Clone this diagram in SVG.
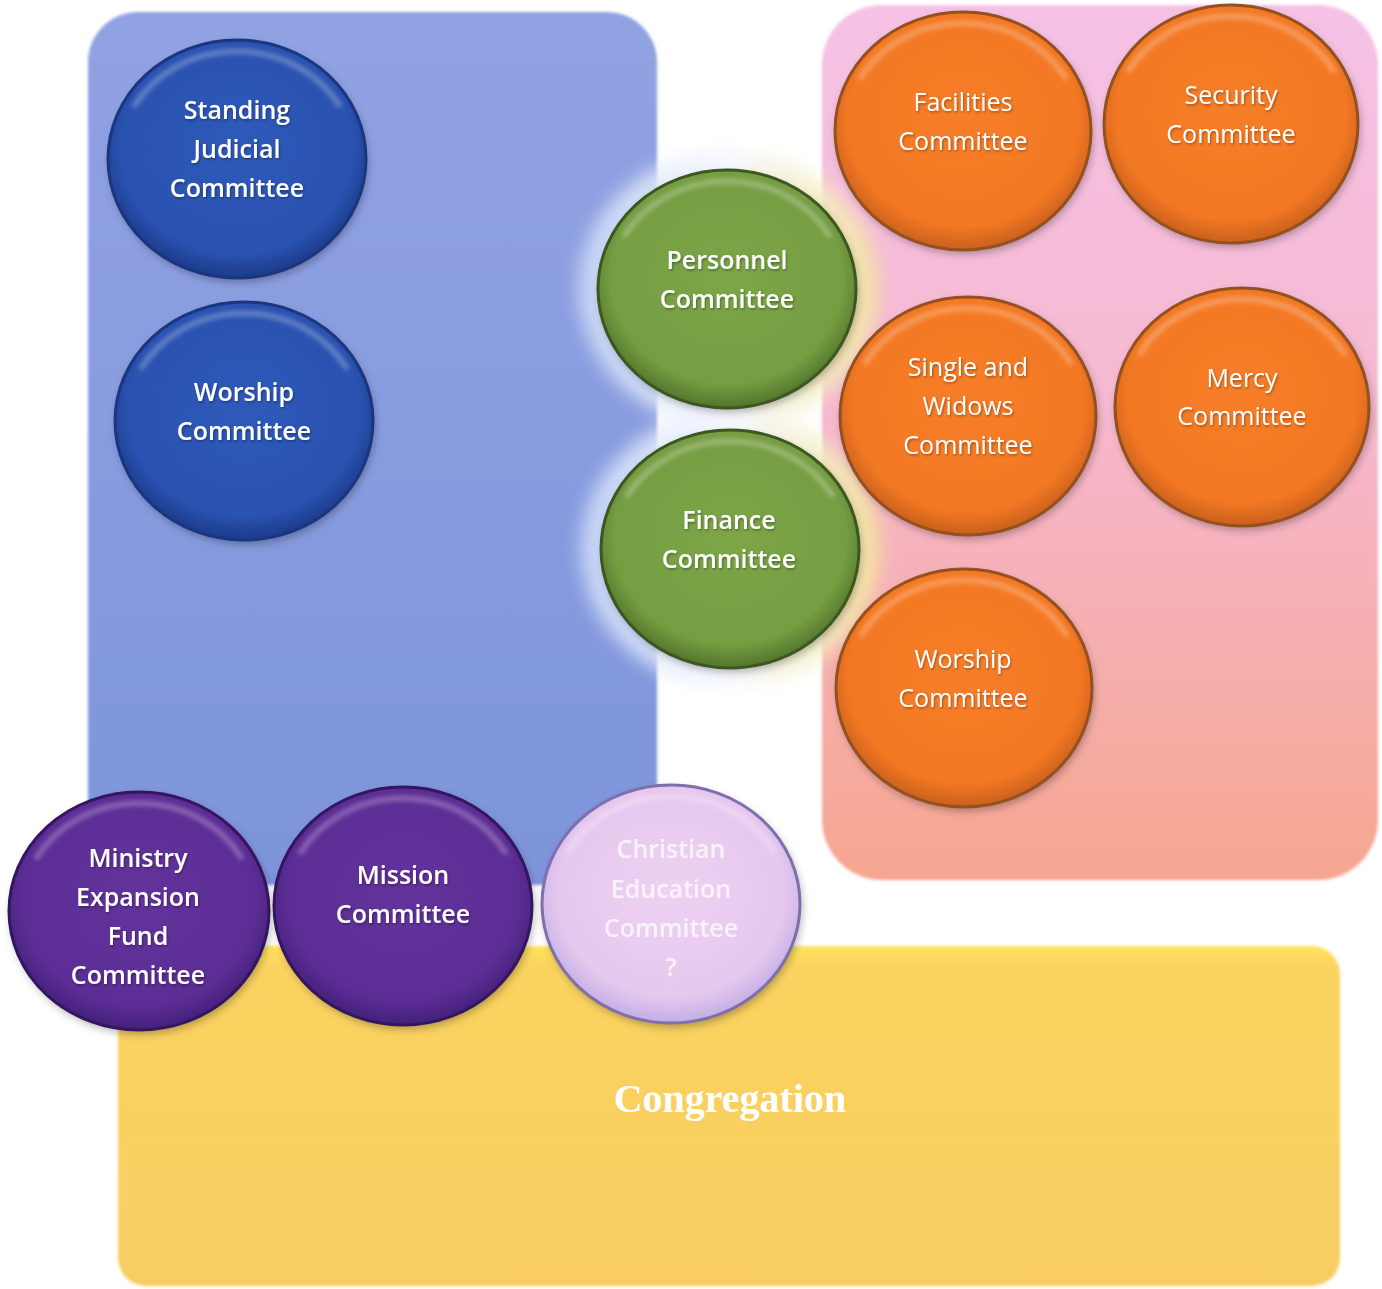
<svg xmlns="http://www.w3.org/2000/svg" width="1382" height="1289" viewBox="0 0 1382 1289">
<style>
.t{font-family:"Open Sans","Noto Sans","Liberation Sans",sans-serif;font-size:25px;fill:#ffffff;text-anchor:middle;font-weight:600}
.tl{font-weight:400}
.cong{font-family:"Liberation Serif","Times New Roman",serif;font-size:40px;font-weight:700;fill:#ffffff;text-anchor:middle}
.hl{fill:none;stroke:#ffffff;stroke-opacity:0.25;stroke-width:6;stroke-linecap:round;filter:url(#blur2)}
.sh{fill:#000000;fill-opacity:0.3;filter:url(#blur4)}
</style>
<defs>
<filter id="blur2" x="-20%" y="-20%" width="140%" height="140%"><feGaussianBlur stdDeviation="2"/></filter>
<filter id="blur4" x="-20%" y="-20%" width="140%" height="140%"><feGaussianBlur stdDeviation="4"/></filter>
<filter id="soft" x="-5%" y="-5%" width="110%" height="110%"><feGaussianBlur stdDeviation="1.5"/></filter>
<filter id="glow" x="-30%" y="-30%" width="160%" height="160%"><feGaussianBlur stdDeviation="9"/></filter>
<filter id="ts" x="-10%" y="-30%" width="120%" height="160%"><feDropShadow dx="1" dy="1.5" stdDeviation="1" flood-color="#000000" flood-opacity="0.35"/></filter>
<linearGradient id="gPanelBlue" x1="0" y1="0" x2="0" y2="1">
<stop offset="0" stop-color="#91a2e2"/><stop offset="1" stop-color="#7d94dc"/>
</linearGradient>
<linearGradient id="gPanelPink" x1="0" y1="0" x2="0" y2="1">
<stop offset="0" stop-color="#f5c2e6"/><stop offset="0.45" stop-color="#f6b8d0"/><stop offset="1" stop-color="#f6a690"/>
</linearGradient>
<linearGradient id="gPanelYellow" x1="0" y1="0" x2="0" y2="1">
<stop offset="0" stop-color="#ffe45a"/><stop offset="0.06" stop-color="#fad35e"/><stop offset="1" stop-color="#f8cc64"/>
</linearGradient>
<linearGradient id="gGlow" x1="0" y1="0" x2="1" y2="0">
<stop offset="0" stop-color="#d0def8"/><stop offset="0.5" stop-color="#f4f6ff"/><stop offset="1" stop-color="#f3ea98"/>
</linearGradient>
<radialGradient id="gBlue" cx="50%" cy="45%" r="55%">
<stop offset="0" stop-color="#2e5aba"/><stop offset="0.82" stop-color="#2a52b0"/><stop offset="1" stop-color="#1b3a8a"/>
</radialGradient>
<radialGradient id="gGreen" cx="50%" cy="45%" r="55%">
<stop offset="0" stop-color="#7ca648"/><stop offset="0.82" stop-color="#759d42"/><stop offset="1" stop-color="#51752b"/>
</radialGradient>
<radialGradient id="gOrange" cx="50%" cy="45%" r="55%">
<stop offset="0" stop-color="#f77e28"/><stop offset="0.82" stop-color="#f37823"/><stop offset="1" stop-color="#c8601c"/>
</radialGradient>
<radialGradient id="gPurple" cx="50%" cy="45%" r="55%">
<stop offset="0" stop-color="#63339c"/><stop offset="0.82" stop-color="#5c2d95"/><stop offset="1" stop-color="#43207a"/>
</radialGradient>
<radialGradient id="gLav" cx="50%" cy="45%" r="55%">
<stop offset="0" stop-color="#eed2f2"/><stop offset="0.8" stop-color="#e6c8ee"/><stop offset="1" stop-color="#c2aee4"/>
</radialGradient>
</defs>
<rect width="1382" height="1289" fill="#ffffff"/>
<g id="panels">
<rect id="panel-blue" x="88" y="12" width="569" height="873" rx="50" fill="url(#gPanelBlue)" filter="url(#soft)"/>
<rect id="panel-pink" x="822" y="5" width="556" height="875" rx="60" fill="url(#gPanelPink)" filter="url(#soft)"/>
<rect id="panel-yellow" x="118" y="946" width="1222" height="340" rx="28" fill="url(#gPanelYellow)" filter="url(#soft)"/>
<ellipse cx="728" cy="289" rx="150" ry="138" fill="url(#gGlow)" opacity="0.85" filter="url(#glow)"/>
<ellipse cx="730" cy="549" rx="150" ry="138" fill="url(#gGlow)" opacity="0.85" filter="url(#glow)"/>
</g>
<g id="connectors"/>
<g id="congregation"><text class="cong" x="730" y="1112">Congregation</text></g>

<g id="standing-judicial">
<ellipse class="sh" cx="239" cy="163" rx="129" ry="119"/>
<ellipse cx="237" cy="159" rx="129" ry="119" fill="url(#gBlue)" stroke="#1a3680" stroke-width="3"/>
<path class="hl" d="M135 105 A118 108 0 0 1 339 105"/>
<g filter="url(#ts)"><text class="t" x="237" y="119">Standing</text><text class="t" x="237" y="158">Judicial</text><text class="t" x="237" y="197">Committee</text></g>
</g>
<g id="worship-blue">
<ellipse class="sh" cx="246" cy="425" rx="129" ry="119"/>
<ellipse cx="244" cy="421" rx="129" ry="119" fill="url(#gBlue)" stroke="#1a3680" stroke-width="3"/>
<path class="hl" d="M142 367 A118 108 0 0 1 346 367"/>
<g filter="url(#ts)"><text class="t" x="244" y="401">Worship</text><text class="t" x="244" y="440">Committee</text></g>
</g>
<g id="personnel">
<ellipse class="sh" cx="729" cy="293" rx="129" ry="119"/>
<ellipse cx="727" cy="289" rx="129" ry="119" fill="url(#gGreen)" stroke="#3c5820" stroke-width="3"/>
<path class="hl" d="M625 235 A118 108 0 0 1 829 235"/>
<g filter="url(#ts)"><text class="t" x="727" y="269">Personnel</text><text class="t" x="727" y="308">Committee</text></g>
</g>
<g id="finance">
<ellipse class="sh" cx="732" cy="553" rx="129" ry="119"/>
<ellipse cx="730" cy="549" rx="129" ry="119" fill="url(#gGreen)" stroke="#3c5820" stroke-width="3"/>
<path class="hl" d="M628 495 A118 108 0 0 1 832 495"/>
<g filter="url(#ts)"><text class="t" x="729" y="529">Finance</text><text class="t" x="729" y="568">Committee</text></g>
</g>
<g id="facilities">
<ellipse class="sh" cx="965" cy="135" rx="128" ry="119"/>
<ellipse cx="963" cy="131" rx="128" ry="119" fill="url(#gOrange)" stroke="#94501f" stroke-width="3"/>
<path class="hl" d="M861 77 A118 108 0 0 1 1065 77"/>
<g filter="url(#ts)"><text class="t tl" x="963" y="111">Facilities</text><text class="t tl" x="963" y="150">Committee</text></g>
</g>
<g id="security">
<ellipse class="sh" cx="1233" cy="128" rx="127" ry="119"/>
<ellipse cx="1231" cy="124" rx="127" ry="119" fill="url(#gOrange)" stroke="#94501f" stroke-width="3"/>
<path class="hl" d="M1129 70 A118 108 0 0 1 1333 70"/>
<g filter="url(#ts)"><text class="t tl" x="1231" y="104">Security</text><text class="t tl" x="1231" y="143">Committee</text></g>
</g>
<g id="single-widows">
<ellipse class="sh" cx="970" cy="420" rx="128" ry="119"/>
<ellipse cx="968" cy="416" rx="128" ry="119" fill="url(#gOrange)" stroke="#94501f" stroke-width="3"/>
<path class="hl" d="M866 362 A118 108 0 0 1 1070 362"/>
<g filter="url(#ts)"><text class="t tl" x="968" y="376">Single and</text><text class="t tl" x="968" y="415">Widows</text><text class="t tl" x="968" y="454">Committee</text></g>
</g>
<g id="mercy">
<ellipse class="sh" cx="1244" cy="411" rx="127" ry="119"/>
<ellipse cx="1242" cy="407" rx="127" ry="119" fill="url(#gOrange)" stroke="#94501f" stroke-width="3"/>
<path class="hl" d="M1140 353 A118 108 0 0 1 1344 353"/>
<g filter="url(#ts)"><text class="t tl" x="1242" y="387">Mercy</text><text class="t tl" x="1242" y="425">Committee</text></g>
</g>
<g id="worship-orange">
<ellipse class="sh" cx="966" cy="692" rx="128" ry="119"/>
<ellipse cx="964" cy="688" rx="128" ry="119" fill="url(#gOrange)" stroke="#94501f" stroke-width="3"/>
<path class="hl" d="M862 634 A118 108 0 0 1 1066 634"/>
<g filter="url(#ts)"><text class="t tl" x="963" y="668">Worship</text><text class="t tl" x="963" y="707">Committee</text></g>
</g>
<g id="ministry-expansion">
<ellipse class="sh" cx="141" cy="915" rx="130" ry="119"/>
<ellipse cx="139" cy="911" rx="130" ry="119" fill="url(#gPurple)" stroke="#341660" stroke-width="3"/>
<path class="hl" d="M37 857 A118 108 0 0 1 241 857"/>
<g filter="url(#ts)"><text class="t" x="138" y="867">Ministry</text><text class="t" x="138" y="906">Expansion</text><text class="t" x="138" y="945">Fund</text><text class="t" x="138" y="984">Committee</text></g>
</g>
<g id="mission">
<ellipse class="sh" cx="405" cy="910" rx="129" ry="119"/>
<ellipse cx="403" cy="906" rx="129" ry="119" fill="url(#gPurple)" stroke="#341660" stroke-width="3"/>
<path class="hl" d="M301 852 A118 108 0 0 1 505 852"/>
<g filter="url(#ts)"><text class="t" x="403" y="884">Mission</text><text class="t" x="403" y="923">Committee</text></g>
</g>
<g id="christian-education">
<ellipse class="sh" cx="673" cy="908" rx="129" ry="119"/>
<ellipse cx="671" cy="904" rx="129" ry="119" fill="url(#gLav)" stroke="#7f6fae" stroke-width="3"/>
<path class="hl" d="M569 850 A118 108 0 0 1 773 850"/>
<g opacity="0.75"><text class="t" x="671" y="858">Christian</text><text class="t" x="671" y="898">Education</text><text class="t" x="671" y="937">Committee</text><text class="t" x="671" y="976">?</text></g>
</g>
</svg>
